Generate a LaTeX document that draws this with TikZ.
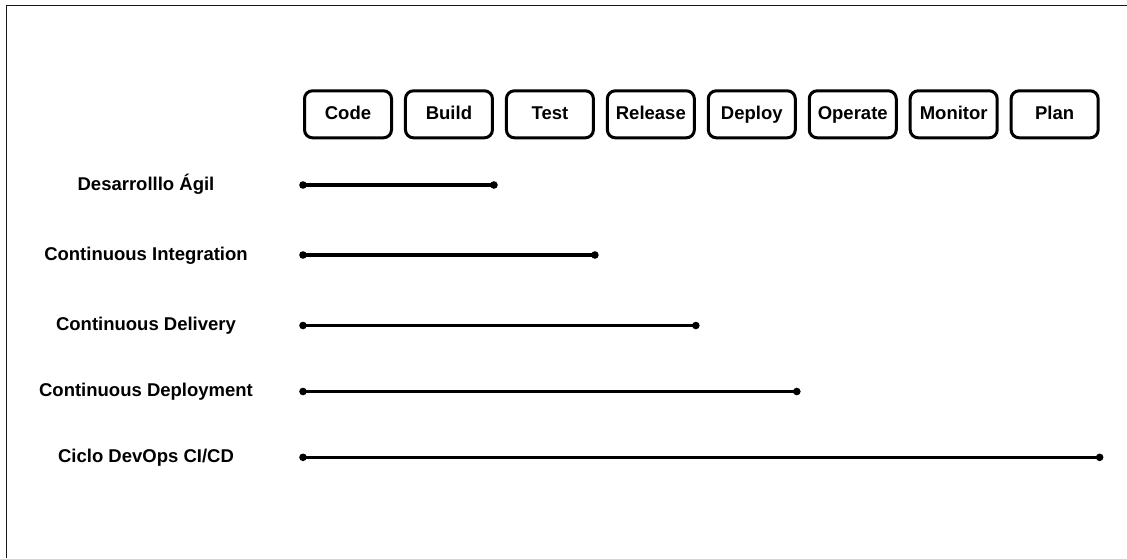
\documentclass[tikz,border=0pt]{standalone}
\usepackage{fontspec}
\setmainfont{Liberation Sans}
\begin{document}
\begin{tikzpicture}[x=1pt,y=-1pt,
  stagebox/.style={draw=black, line width=3pt, rounded corners=8pt, minimum width=87pt, minimum height=47pt, inner sep=0pt, text height=13pt, text depth=3pt, font=\fontsize{18.5}{20}\selectfont\bfseries, text=black},
  rowlabel/.style={font=\fontsize{18.5}{20}\selectfont\bfseries, text=black, inner sep=0pt, text height=13pt, text depth=3pt},
  bar/.style={line width=3.5pt, black},
  dot/.style={fill=black},
  frameline/.style={line width=1.5pt, black!90}
]
\useasboundingbox (0,0) rectangle (1127,558);
\fill[white] (0,0) rectangle (1127,558);
% frame (top and left only)
\coordinate (ftl) at (6.5,5.3);
\coordinate (ftr) at (1127,5.3);
\coordinate (fbl) at (6.5,558);
\draw[frameline] (ftr) -- (ftl) -- (fbl);

% stage boxes
\foreach \name/\txt [count=\i from 0] in {code/Code,build/Build,test/Test,release/Release,deploy/Deploy,operate/Operate,monitor/Monitor,plan/Plan}{
  \node[stagebox] (\name) at ({348+100.95*\i},114.3) {\txt};
}

% row labels
\node[rowlabel] (l1) at (146,185) {Desarrolllo Ágil};
\node[rowlabel] (l2) at (146,255) {Continuous Integration};
\node[rowlabel] (l3) at (146,325.5) {Continuous Delivery};
\node[rowlabel] (l4) at (146,391.5) {Continuous Deployment};
\node[rowlabel] (l5) at (146,457.3) {Ciclo DevOps CI/CD};

% bars
\foreach \lab/\stop in {l1/build,l2/test,l3/release,l4/deploy,l5/plan}{
  \coordinate (\lab s) at (\lab -| code.west);
  \coordinate (\lab e) at (\lab -| \stop.east);
  \draw[bar] (\lab s) -- (\lab e);
  \fill[dot] (\lab s) circle (3.8);
  \fill[dot] (\lab e) circle (3.8);
}
\end{tikzpicture}
\end{document}
